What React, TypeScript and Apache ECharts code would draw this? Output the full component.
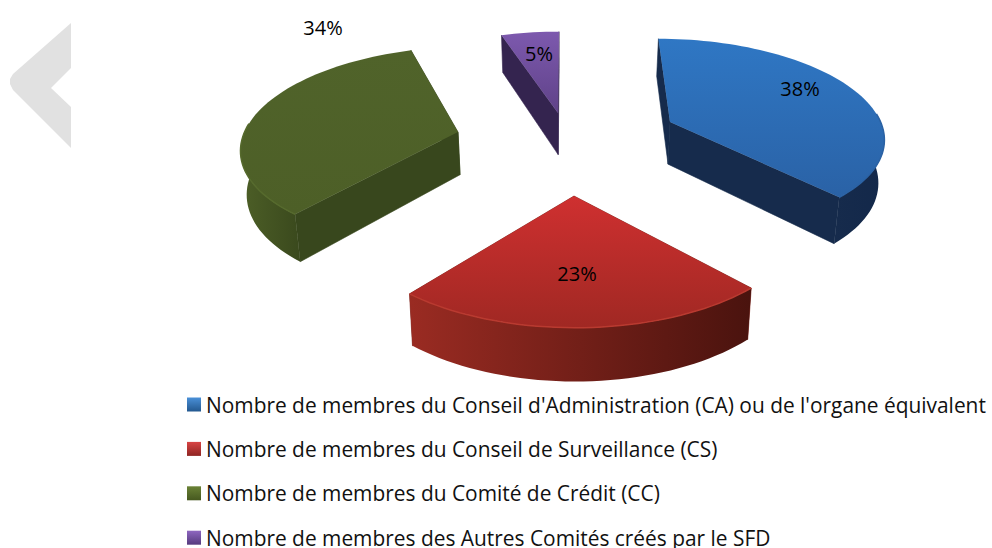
import React, { useEffect, useRef } from "react";
import * as echarts from "echarts";

const seriesNames = [
  "Nombre de membres du Conseil d'Administration (CA) ou de l'organe équivalent",
  "Nombre de membres du Conseil de Surveillance (CS)",
  "Nombre de membres du Comité de Crédit (CC)",
  "Nombre de membres des Autres Comités créés par le SFD",
];
const sliceValues = [38, 23, 34, 5];
const sliceLabels = ["38%", "23%", "34%", "5%"];

// layout of the exploded 3D pie, not data
const apexes = [[670, 122], [574, 196], [458, 132], [558, 113]];
const labelAt = [[800, 88], [577, 273], [323, 27], [539, 53]];
const topColors = [["#2f77c4", "#2a62a6"], ["#cf3030", "#a02823"], ["#50632a", "#4d5f27"], ["#7d59ae", "#5f4288"]];
const edgeColors = ["#162b4c", "#7a2018", "#38471d", "#34244f"];
const rimColors = [["#162b4c", "#13284a"], ["#9a2b22", "#4a130e"], ["#4d5f27", "#3a491d"], ["#34244f", "#34244f"]];
const rimLines = ["#2b62a4", "#b93a30", "#566a2d", "#5f4288"];
const legendColors = [["#4a90d8", "#23588f"], ["#d84444", "#8f2522"], ["#6a8236", "#46581f"], ["#8e66c0", "#553a7d"]];

const VX = 567, VY = -620, H = 775, P = 0.132, A = 220, D = 44, SQ = 0.981;
const FONT = "Open Sans";
const total = sliceValues.reduce((a, b) => a + b, 0);
const RAD = Math.PI / 180;

function projector(apex: number[]) {
  const w0 = (apex[1] - VY) / H;
  const den0 = 1 / w0;
  const x0 = (apex[0] - VX) / w0;
  const top = (u: number, v: number) => {
    const w = 1 / (den0 + P * v);
    return [VX + (x0 + A * u) * w, VY + H * w, w];
  };
  const at = (deg: number, bottom = false) => {
    const u = Math.sin(deg * RAD), v = Math.cos(deg * RAD);
    const p = top(u, v);
    return bottom ? [VX + (p[0] - VX) * SQ, p[1] + D * p[2]] : [p[0], p[1]];
  };
  const apexBottom = () => {
    const p = top(0, 0);
    return [VX + (p[0] - VX) * SQ, p[1] + D * p[2]];
  };
  return { at, apex: [apex[0], apex[1]], apexBottom };
}

function grad(c: string[], horizontal: boolean) {
  return new echarts.graphic.LinearGradient(0, 0, horizontal ? 1 : 0, horizontal ? 0 : 1, [
    { offset: 0, color: c[0] },
    { offset: 1, color: c[1] },
  ]);
}

function arc(fn: (d: number) => number[], from: number, to: number) {
  const pts: number[][] = [];
  const n = Math.max(2, Math.ceil((to - from) / 2));
  for (let i = 0; i <= n; i++) pts.push(fn(from + ((to - from) * i) / n));
  return pts;
}

function makeRenderItem(index: number) {
  return (_params: any, api: any) => {
    const value = api.value(0);
    const before = sliceValues.slice(0, index).reduce((a, b) => a + b, 0);
    const s = (before / total) * 360;
    const e = s + (value / total) * 360;
    const pr = projector(apexes[index]);
    const children: any[] = [];
    const quad = (deg: number) => [pr.apex, pr.at(deg), pr.at(deg, true), pr.apexBottom()];
    const poly = (points: number[][], fill: any, stroke: any = "none") => ({
      type: "polygon",
      shape: { points },
      style: { fill, stroke, lineWidth: stroke === "none" ? 0 : 0.6 },
    });
    const startFront = Math.cos(s * RAD) < Math.cos(e * RAD);
    const rear = startFront ? e : s;
    const front = startFront ? s : e;
    children.push(poly(quad(rear), edgeColors[index], edgeColors[index]));
    children.push(poly(quad(front), edgeColors[index], edgeColors[index]));
    const from = Math.max(s, 85), to = Math.min(e, 275);
    if (to > from) {
      const upper = arc((d) => pr.at(d), from, to);
      const lower = arc((d) => pr.at(d, true), from, to).reverse();
      children.push(poly(upper.concat(lower), grad(rimColors[index], true)));
    }
    children.push(poly([pr.apex].concat(arc((d) => pr.at(d), s, e)), grad(topColors[index], false)));
    if (to > from) {
      children.push({
        type: "polyline",
        shape: { points: arc((d) => pr.at(d), from, to) },
        style: { fill: "none", stroke: rimLines[index], lineWidth: 1.5 },
      });
    }
    children.push({
      type: "text",
      x: labelAt[index][0],
      y: labelAt[index][1],
      style: {
        text: sliceLabels[index],
        fontFamily: FONT,
        fontSize: 20,
        fill: "#000",
        align: "center",
        verticalAlign: "middle",
      },
    });
    return { type: "group", children };
  };
}

export default function App() {
  const ref = useRef<HTMLDivElement>(null);
  useEffect(() => {
    const chart = echarts.init(ref.current!, null, { renderer: "svg" });
    chart.setOption({
      animation: false,
      backgroundColor: "#fff",
      legend: {
        orient: "vertical",
        left: 182,
        top: 389,
        height: 170,
        itemWidth: 14,
        itemHeight: 14,
        itemGap: 23.4,
        icon: "rect",
        data: seriesNames,
        textStyle: { fontFamily: FONT, fontSize: 20.9, color: "#111", lineHeight: 18 },
      },
      graphic: [
        {
          type: "polygon",
          shape: {
            points: [[71, 23], [13, 74], [10, 79], [10, 84], [13, 90], [71, 148], [71, 107], [51, 88], [71, 68]],
          },
          style: { fill: "#e1e1e1" },
        },
      ],
      series: seriesNames.map((name, i) => ({
        type: "custom",
        name,
        coordinateSystem: "none",
        data: [sliceValues[i]],
        itemStyle: { color: grad(legendColors[i], false) },
        renderItem: makeRenderItem(i),
      })),
    });
    return () => chart.dispose();
  }, []);
  return <div ref={ref} style={{ position: "absolute", left: 0, top: 0, width: 992, height: 548 }} />;
}
